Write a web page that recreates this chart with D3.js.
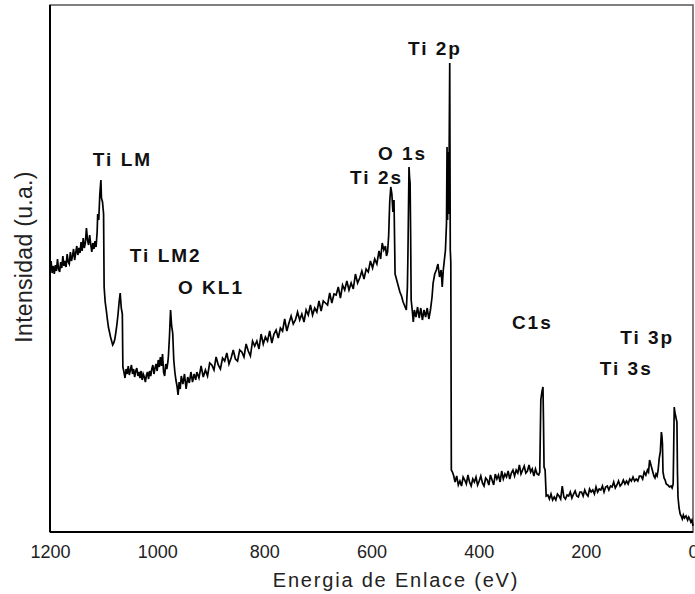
<!DOCTYPE html>
<html>
<head>
<meta charset="utf-8">
<script src="https://cdn.jsdelivr.net/npm/d3@7/dist/d3.min.js"></script>
<style>
  html, body { margin: 0; padding: 0; background: #fff; overflow: hidden; }
  svg { display: block; }
</style>
</head>
<body>
<div id="chart"></div>
<script>
// binding energy (eV) / intensity (a.u.)
const spectrum = [
  [1200,262],[1198,271],[1196,259],[1194,266],[1192,258],[1190,267],[1188,261],[1186,273],[1184,263],[1182,260],
  [1180,270],[1178,264],[1176,276],[1174,266],[1172,271],[1170,265],[1168,278],[1166,270],[1164,268],[1162,280],
  [1160,271],[1158,276],[1156,283],[1154,272],[1152,279],[1150,286],[1148,277],[1146,284],[1144,279],[1142,290],
  [1140,281],[1138,294],[1136,284],[1134,289],[1132,304],[1130,292],[1128,287],[1126,297],[1124,288],[1122,280],
  [1120,289],[1118,283],[1116,291],[1114,285],[1112,300],
  [1111,318],[1109,312],[1107,338],[1105,352],[1104,334],[1102,330],[1100,318],[1099,245],[1097,230],[1095,222],
  [1093,213],[1091,205],[1089,200],[1087,195],[1085,191],[1083,187],[1081,189],[1079,193],[1077,200],[1075,208],
  [1073,218],[1071,230],[1069,239],[1067,224],[1065,218],[1064,165],
  [1062,160],[1060,154],[1058,163],[1056,158],[1054,166],[1052,157],[1050,162],[1048,167],[1046,158],[1044,163],
  [1042,155],[1040,161],[1038,164],[1036,156],[1034,160],[1032,154],[1030,161],[1028,152],[1026,158],[1024,155],
  [1022,150],[1020,157],[1018,160],[1016,153],[1014,161],[1012,156],[1010,163],[1008,167],[1006,158],[1004,164],
  [1002,168],[1000,161],[998,172],[996,165],[994,175],[992,166],[990,178],[988,160],[986,156],[984,168],
  [982,163],[980,170],[979,176],[977,196],
  [975,222],[973,206],[971,199],[969,172],[967,160],[965,152],[963,146],[961,137],[959,150],[957,143],
  [955,156],[952,148],[949,158],[946,143],[943,155],[940,149],[937,160],[934,150],[931,158],[928,152],
  [926,160],[922,154],[918,166],[914,155],[910,162],[906,156],[902,169],[898,167],[894,162],[890,175],
  [886,167],[882,163],[878,174],[874,171],[870,179],[866,168],[862,174],[858,182],[854,173],[850,171],
  [846,182],[842,180],[838,175],[834,188],[830,181],[826,176],[822,191],[818,186],[814,191],[810,183],
  [806,198],[802,188],[798,195],[794,191],[790,201],[786,189],[782,198],[778,202],[774,194],[770,204],
  [766,201],[762,213],[758,201],[754,209],[750,216],[746,208],[742,212],[738,220],[734,212],[730,218],
  [726,210],[722,222],[718,217],[714,227],[710,217],[706,224],[702,220],[698,231],[694,221],[690,231],
  [686,229],[682,227],[678,239],[674,229],[670,238],[666,237],[662,245],[658,234],[654,247],[650,242],
  [646,251],[642,242],[638,249],[634,243],[630,258],[626,249],[622,254],[618,261],[614,253],[610,263],
  [606,260],[602,271],[598,264],[594,273],[590,268],[586,281],[583,273],[580,289],[577,282],[574,286],
  [572,276],[570,280],[568,296],[566,330],[564,345],[562,338],[560,320],[558,332],
  [556,258],[553,252],[550,246],[547,240],[544,236],[541,230],[538,226],[535,222],[533,245],[532,278],
  [530,365],[529,355],[528,349],[527,300],[526,232],[524,222],[522,210],[520,222],[517,215],[514,225],
  [511,214],[508,224],[505,212],[502,222],[499,215],[496,224],[493,213],[490,222],[487,235],[485,249],
  [482,258],[479,262],[476,268],[473,255],[470,262],[468,245],[466,262],[464,272],[462,282],[460,309],
  [459,385],[458,312],[457,380],[456,318],[455,385],[454,469],[453,282],[452,270],[451,62],[449,60],
  [447,57],[444,50],[441,56],[438,47],[435,51],[432,46],[429,55],[426,52],[423,48],[420,57],
  [417,50],[414,46],[411,53],[408,50],[405,55],[402,47],[399,51],[396,56],[393,49],[390,46],
  [387,54],[384,52],[381,47],[378,57],[375,52],[372,47],[369,58],[366,53],[363,57],[360,50],
  [357,61],[354,53],[351,58],[348,55],[345,61],[342,53],[339,59],[336,62],[333,56],[330,62],
  [327,59],[324,67],[321,58],[318,62],[315,66],[312,59],[309,61],[306,67],[303,60],[300,63],
  [297,56],[294,63],[291,58],[288,57],[286,60],[284,132],[282,140],[280,145],[279,110],[278,65],
  [276,62],[274,36],[271,37],[268,33],[265,38],[262,32],[259,35],[256,32],[253,38],[250,36],
  [247,33],[244,46],[241,35],[238,33],[235,37],[232,36],[229,40],[226,34],[223,38],[220,41],
  [217,36],[214,35],[211,40],[208,40],[205,36],[202,42],[199,38],[196,36],[193,43],[190,40],
  [187,42],[184,38],[181,45],[178,40],[175,43],[172,42],[169,46],[166,40],[163,45],[160,46],
  [157,42],[154,46],[151,45],[148,50],[145,44],[142,47],[139,51],[136,46],[133,48],[130,52],
  [127,48],[124,51],[121,48],[118,53],[115,51],[112,55],[109,51],[106,53],[103,51],[100,56],
  [97,56],[94,53],[91,60],[88,57],[85,62],[83,60],[81,72],[79,68],[77,64],[75,60],
  [73,56],[71,54],[69,58],[67,56],[65,62],[63,74],[61,80],[59,100],[58,96],[57,88],
  [56,60],[54,54],[52,52],[50,48],[47,47],[44,45],[41,46],[39,44],[37,48],[36,85],
  [35,125],[34,120],[32,115],[30,110],[29,60],[28,35],[26,24],[24,18],[22,16],[20,13],
  [18,17],[16,14],[13,16],[10,12],[8,15],[6,13],[4,10],[2,12],[0,6]
];

// peak annotations: text, energy of left edge, intensity of baseline
const peakNames = ["Ti LM", "Ti LM2", "O KL1", "Ti 2p", "O 1s", "Ti 2s", "C1s", "Ti 3p", "Ti 3s"];
const peakLabelE = [1120, 1051, 961, 532, 588, 640, 338, 136, 174];
const peakLabelI = [366, 270, 238, 477, 372, 348, 203, 188, 157];

const xTicks = [1200, 1000, 800, 600, 400, 200, 0];
const xTitle = "Energia de Enlace (eV)";
const yTitle = "Intensidad (u.a.)";

const width = 695, height = 594;
const margin = { top: 5, right: 2, bottom: 62, left: 50 };

const svg = d3.select("#chart").append("svg")
  .attr("width", width)
  .attr("height", height);

const x = d3.scaleLinear()
  .domain([1200, 0])
  .range([margin.left, width - margin.right]);

const y = d3.scaleLinear()
  .domain([0, 527])
  .range([height - margin.bottom, margin.top]);

// frame
svg.append("rect")
  .attr("x", margin.left)
  .attr("y", margin.top)
  .attr("width", width - margin.right - margin.left)
  .attr("height", height - margin.bottom - margin.top)
  .attr("fill", "none")
  .attr("stroke", "#555")
  .attr("stroke-width", 1.5);

// x axis (labels only)
const xAxis = svg.append("g")
  .attr("transform", `translate(0,${height - margin.bottom})`)
  .call(d3.axisBottom(x).tickValues(xTicks).tickSize(0).tickPadding(13).tickFormat(d3.format("d")));
xAxis.select(".domain").remove();
xAxis.selectAll("text")
  .attr("font-family", "Liberation Sans, Arial, sans-serif")
  .attr("font-size", "18px")
  .attr("fill", "#222");

// left and bottom axis lines in black
svg.append("line")
  .attr("x1", margin.left).attr("x2", margin.left)
  .attr("y1", margin.top).attr("y2", height - margin.bottom)
  .attr("stroke", "#000").attr("stroke-width", 2);
svg.append("line")
  .attr("x1", margin.left).attr("x2", width - margin.right)
  .attr("y1", height - margin.bottom).attr("y2", height - margin.bottom)
  .attr("stroke", "#000").attr("stroke-width", 2);

// spectrum
const line = d3.line()
  .x(d => x(d[0]))
  .y(d => y(d[1]));

svg.append("path")
  .datum(spectrum)
  .attr("d", line)
  .attr("fill", "none")
  .attr("stroke", "#000")
  .attr("stroke-width", 1.7)
  .attr("stroke-linejoin", "miter");

// peak labels
svg.selectAll(".peak")
  .data(peakNames)
  .enter()
  .append("text")
  .attr("class", "peak")
  .attr("x", (d, i) => x(peakLabelE[i]))
  .attr("y", (d, i) => y(peakLabelI[i]))
  .attr("font-family", "Liberation Sans, Arial, sans-serif")
  .attr("font-size", "19px")
  .attr("font-weight", "bold")
  .attr("letter-spacing", "2px")
  .attr("fill", "#111")
  .text(d => d);

// axis titles
svg.append("text")
  .attr("x", 396)
  .attr("y", 587)
  .attr("text-anchor", "middle")
  .attr("font-family", "Liberation Sans, Arial, sans-serif")
  .attr("font-size", "20px")
  .attr("letter-spacing", "1.8px")
  .attr("fill", "#222")
  .text(xTitle);

svg.append("text")
  .attr("transform", "translate(32,257) rotate(-90)")
  .attr("text-anchor", "middle")
  .attr("font-family", "Liberation Sans, Arial, sans-serif")
  .attr("font-size", "23px")
  .attr("letter-spacing", "0.3px")
  .attr("fill", "#222")
  .text(yTitle);
</script>
</body>
</html>
